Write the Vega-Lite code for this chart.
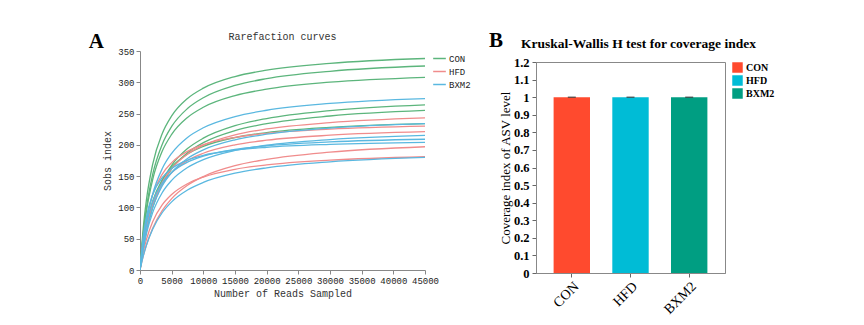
{
  "$schema": "https://vega.github.io/schema/vega-lite/v6.json",
  "background": "white",
  "padding": {"left": 88, "top": 29, "right": 5, "bottom": 5},
  "spacing": 17,
  "resolve": {"scale": {"color": "independent"}, "legend": {"color": "independent"}},
  "config": {"view": {"stroke": null}, "axis": {"grid": false}},
  "datasets": {
    "curves": [
      {"s":"C1","g":"CON","x":0,"y":0},{"s":"C1","g":"CON","x":500,"y":65.6},{"s":"C1","g":"CON","x":1000,"y":110.8},{"s":"C1","g":"CON","x":2000,"y":168.8},{"s":"C1","g":"CON","x":3500,"y":217.7},{"s":"C1","g":"CON","x":5000,"y":246.2},{"s":"C1","g":"CON","x":7500,"y":274.1},{"s":"C1","g":"CON","x":10000,"y":290.6},{"s":"C1","g":"CON","x":15000,"y":309.2},{"s":"C1","g":"CON","x":20000,"y":319.4},{"s":"C1","g":"CON","x":30000,"y":330.3},{"s":"C1","g":"CON","x":45000,"y":338},
      {"s":"C2","g":"CON","x":0,"y":0},{"s":"C2","g":"CON","x":500,"y":57.4},{"s":"C2","g":"CON","x":1000,"y":98.3},{"s":"C2","g":"CON","x":2000,"y":152.9},{"s":"C2","g":"CON","x":3500,"y":200.7},{"s":"C2","g":"CON","x":5000,"y":229.4},{"s":"C2","g":"CON","x":7500,"y":258.1},{"s":"C2","g":"CON","x":10000,"y":275.3},{"s":"C2","g":"CON","x":15000,"y":294.9},{"s":"C2","g":"CON","x":20000,"y":305.9},{"s":"C2","g":"CON","x":30000,"y":317.6},{"s":"C2","g":"CON","x":45000,"y":326},
      {"s":"C3","g":"CON","x":0,"y":0},{"s":"C3","g":"CON","x":500,"y":54.2},{"s":"C3","g":"CON","x":1000,"y":92.9},{"s":"C3","g":"CON","x":2000,"y":144.5},{"s":"C3","g":"CON","x":3500,"y":189.6},{"s":"C3","g":"CON","x":5000,"y":216.7},{"s":"C3","g":"CON","x":7500,"y":243.8},{"s":"C3","g":"CON","x":10000,"y":260.1},{"s":"C3","g":"CON","x":15000,"y":278.7},{"s":"C3","g":"CON","x":20000,"y":289.0},{"s":"C3","g":"CON","x":30000,"y":300.1},{"s":"C3","g":"CON","x":45000,"y":308},
      {"s":"C4","g":"CON","x":0,"y":0},{"s":"C4","g":"CON","x":500,"y":35.6},{"s":"C4","g":"CON","x":1000,"y":63.2},{"s":"C4","g":"CON","x":2000,"y":103.5},{"s":"C4","g":"CON","x":3500,"y":142.3},{"s":"C4","g":"CON","x":5000,"y":167.4},{"s":"C4","g":"CON","x":7500,"y":194.0},{"s":"C4","g":"CON","x":10000,"y":210.7},{"s":"C4","g":"CON","x":15000,"y":230.7},{"s":"C4","g":"CON","x":20000,"y":242.1},{"s":"C4","g":"CON","x":30000,"y":254.8},{"s":"C4","g":"CON","x":45000,"y":264},
      {"s":"C5","g":"CON","x":0,"y":0},{"s":"C5","g":"CON","x":500,"y":34.4},{"s":"C5","g":"CON","x":1000,"y":61.1},{"s":"C5","g":"CON","x":2000,"y":99.9},{"s":"C5","g":"CON","x":3500,"y":137.4},{"s":"C5","g":"CON","x":5000,"y":161.6},{"s":"C5","g":"CON","x":7500,"y":187.4},{"s":"C5","g":"CON","x":10000,"y":203.6},{"s":"C5","g":"CON","x":15000,"y":222.8},{"s":"C5","g":"CON","x":20000,"y":233.9},{"s":"C5","g":"CON","x":30000,"y":246.1},{"s":"C5","g":"CON","x":45000,"y":255},
      {"s":"C6","g":"CON","x":0,"y":0},{"s":"C6","g":"CON","x":500,"y":41.2},{"s":"C6","g":"CON","x":1000,"y":70.6},{"s":"C6","g":"CON","x":2000,"y":109.8},{"s":"C6","g":"CON","x":3500,"y":144.1},{"s":"C6","g":"CON","x":5000,"y":164.7},{"s":"C6","g":"CON","x":7500,"y":185.3},{"s":"C6","g":"CON","x":10000,"y":197.6},{"s":"C6","g":"CON","x":15000,"y":211.7},{"s":"C6","g":"CON","x":20000,"y":219.6},{"s":"C6","g":"CON","x":30000,"y":228.0},{"s":"C6","g":"CON","x":45000,"y":234},
      {"s":"H1","g":"HFD","x":0,"y":0},{"s":"H1","g":"HFD","x":500,"y":37.0},{"s":"H1","g":"HFD","x":1000,"y":64.8},{"s":"H1","g":"HFD","x":2000,"y":103.7},{"s":"H1","g":"HFD","x":3500,"y":139.6},{"s":"H1","g":"HFD","x":5000,"y":162.0},{"s":"H1","g":"HFD","x":7500,"y":185.1},{"s":"H1","g":"HFD","x":10000,"y":199.4},{"s":"H1","g":"HFD","x":15000,"y":216.0},{"s":"H1","g":"HFD","x":20000,"y":225.4},{"s":"H1","g":"HFD","x":30000,"y":235.6},{"s":"H1","g":"HFD","x":45000,"y":243},
      {"s":"H2","g":"HFD","x":0,"y":0},{"s":"H2","g":"HFD","x":500,"y":48.0},{"s":"H2","g":"HFD","x":1000,"y":80.1},{"s":"H2","g":"HFD","x":2000,"y":120.1},{"s":"H2","g":"HFD","x":3500,"y":152.9},{"s":"H2","g":"HFD","x":5000,"y":171.6},{"s":"H2","g":"HFD","x":7500,"y":189.6},{"s":"H2","g":"HFD","x":10000,"y":200.2},{"s":"H2","g":"HFD","x":15000,"y":211.9},{"s":"H2","g":"HFD","x":20000,"y":218.4},{"s":"H2","g":"HFD","x":30000,"y":225.2},{"s":"H2","g":"HFD","x":45000,"y":230},
      {"s":"H3","g":"HFD","x":0,"y":0},{"s":"H3","g":"HFD","x":500,"y":38.9},{"s":"H3","g":"HFD","x":1000,"y":66.7},{"s":"H3","g":"HFD","x":2000,"y":103.7},{"s":"H3","g":"HFD","x":3500,"y":136.1},{"s":"H3","g":"HFD","x":5000,"y":155.5},{"s":"H3","g":"HFD","x":7500,"y":175.0},{"s":"H3","g":"HFD","x":10000,"y":186.6},{"s":"H3","g":"HFD","x":15000,"y":200.0},{"s":"H3","g":"HFD","x":20000,"y":207.4},{"s":"H3","g":"HFD","x":30000,"y":215.4},{"s":"H3","g":"HFD","x":45000,"y":221},
      {"s":"H4","g":"HFD","x":0,"y":0},{"s":"H4","g":"HFD","x":500,"y":21.7},{"s":"H4","g":"HFD","x":1000,"y":39.4},{"s":"H4","g":"HFD","x":2000,"y":66.7},{"s":"H4","g":"HFD","x":3500,"y":94.8},{"s":"H4","g":"HFD","x":5000,"y":114.1},{"s":"H4","g":"HFD","x":7500,"y":135.4},{"s":"H4","g":"HFD","x":10000,"y":149.4},{"s":"H4","g":"HFD","x":15000,"y":166.7},{"s":"H4","g":"HFD","x":20000,"y":176.9},{"s":"H4","g":"HFD","x":30000,"y":188.4},{"s":"H4","g":"HFD","x":45000,"y":197},
      {"s":"H5","g":"HFD","x":0,"y":0},{"s":"H5","g":"HFD","x":500,"y":27.6},{"s":"H5","g":"HFD","x":1000,"y":48.3},{"s":"H5","g":"HFD","x":2000,"y":77.2},{"s":"H5","g":"HFD","x":3500,"y":104.0},{"s":"H5","g":"HFD","x":5000,"y":120.7},{"s":"H5","g":"HFD","x":7500,"y":137.9},{"s":"H5","g":"HFD","x":10000,"y":148.5},{"s":"H5","g":"HFD","x":15000,"y":160.9},{"s":"H5","g":"HFD","x":20000,"y":167.9},{"s":"H5","g":"HFD","x":30000,"y":175.5},{"s":"H5","g":"HFD","x":45000,"y":181},
      {"s":"B1","g":"BXM2","x":0,"y":0},{"s":"B1","g":"BXM2","x":500,"y":44.1},{"s":"B1","g":"BXM2","x":1000,"y":76.6},{"s":"B1","g":"BXM2","x":2000,"y":121.3},{"s":"B1","g":"BXM2","x":3500,"y":161.7},{"s":"B1","g":"BXM2","x":5000,"y":186.5},{"s":"B1","g":"BXM2","x":7500,"y":211.9},{"s":"B1","g":"BXM2","x":10000,"y":227.3},{"s":"B1","g":"BXM2","x":15000,"y":245.2},{"s":"B1","g":"BXM2","x":20000,"y":255.3},{"s":"B1","g":"BXM2","x":30000,"y":266.2},{"s":"B1","g":"BXM2","x":45000,"y":274},
      {"s":"B2","g":"BXM2","x":0,"y":0},{"s":"B2","g":"BXM2","x":500,"y":35.7},{"s":"B2","g":"BXM2","x":1000,"y":62.4},{"s":"B2","g":"BXM2","x":2000,"y":99.8},{"s":"B2","g":"BXM2","x":3500,"y":134.4},{"s":"B2","g":"BXM2","x":5000,"y":156.0},{"s":"B2","g":"BXM2","x":7500,"y":178.3},{"s":"B2","g":"BXM2","x":10000,"y":192.0},{"s":"B2","g":"BXM2","x":15000,"y":208.0},{"s":"B2","g":"BXM2","x":20000,"y":217.0},{"s":"B2","g":"BXM2","x":30000,"y":226.9},{"s":"B2","g":"BXM2","x":45000,"y":234},
      {"s":"B3","g":"BXM2","x":0,"y":0},{"s":"B3","g":"BXM2","x":500,"y":32.8},{"s":"B3","g":"BXM2","x":1000,"y":57.3},{"s":"B3","g":"BXM2","x":2000,"y":91.7},{"s":"B3","g":"BXM2","x":3500,"y":123.5},{"s":"B3","g":"BXM2","x":5000,"y":143.3},{"s":"B3","g":"BXM2","x":7500,"y":163.8},{"s":"B3","g":"BXM2","x":10000,"y":176.4},{"s":"B3","g":"BXM2","x":15000,"y":191.1},{"s":"B3","g":"BXM2","x":20000,"y":199.4},{"s":"B3","g":"BXM2","x":30000,"y":208.5},{"s":"B3","g":"BXM2","x":45000,"y":215},
      {"s":"B4","g":"BXM2","x":0,"y":0},{"s":"B4","g":"BXM2","x":500,"y":43.7},{"s":"B4","g":"BXM2","x":1000,"y":72.8},{"s":"B4","g":"BXM2","x":2000,"y":109.2},{"s":"B4","g":"BXM2","x":3500,"y":138.9},{"s":"B4","g":"BXM2","x":5000,"y":155.9},{"s":"B4","g":"BXM2","x":7500,"y":172.3},{"s":"B4","g":"BXM2","x":10000,"y":181.9},{"s":"B4","g":"BXM2","x":15000,"y":192.6},{"s":"B4","g":"BXM2","x":20000,"y":198.5},{"s":"B4","g":"BXM2","x":30000,"y":204.7},{"s":"B4","g":"BXM2","x":45000,"y":209},
      {"s":"B5","g":"BXM2","x":0,"y":0},{"s":"B5","g":"BXM2","x":500,"y":52.7},{"s":"B5","g":"BXM2","x":1000,"y":84.3},{"s":"B5","g":"BXM2","x":2000,"y":120.5},{"s":"B5","g":"BXM2","x":3500,"y":147.6},{"s":"B5","g":"BXM2","x":5000,"y":162.2},{"s":"B5","g":"BXM2","x":7500,"y":175.7},{"s":"B5","g":"BXM2","x":10000,"y":183.3},{"s":"B5","g":"BXM2","x":15000,"y":191.6},{"s":"B5","g":"BXM2","x":20000,"y":196.1},{"s":"B5","g":"BXM2","x":30000,"y":200.8},{"s":"B5","g":"BXM2","x":45000,"y":204},
      {"s":"B6","g":"BXM2","x":0,"y":0},{"s":"B6","g":"BXM2","x":500,"y":21.8},{"s":"B6","g":"BXM2","x":1000,"y":39.2},{"s":"B6","g":"BXM2","x":2000,"y":65.3},{"s":"B6","g":"BXM2","x":3500,"y":91.5},{"s":"B6","g":"BXM2","x":5000,"y":108.9},{"s":"B6","g":"BXM2","x":7500,"y":127.8},{"s":"B6","g":"BXM2","x":10000,"y":140.0},{"s":"B6","g":"BXM2","x":15000,"y":154.7},{"s":"B6","g":"BXM2","x":20000,"y":163.3},{"s":"B6","g":"BXM2","x":30000,"y":172.9},{"s":"B6","g":"BXM2","x":45000,"y":180}
    ],
    "cov": [
      {"g":"CON","v":0.9995},
      {"g":"HFD","v":0.9995},
      {"g":"BXM2","v":0.9995}
    ]
  },
  "hconcat": [
    {
      "title": {"text": "A", "anchor": "start", "frame": "bounds", "font": "Liberation Serif", "fontSize": 21, "fontWeight": "bold", "color": "#000", "dx": -14, "dy": 20, "offset": 0},
      "vconcat": [
        {
          "title": {"text": "Rarefaction curves", "font": "Liberation Mono", "fontSize": 10, "fontWeight": "normal", "color": "#333", "offset": 5},
          "width": 285,
          "height": 219,
          "data": {"name": "curves"},
          "mark": {"type": "line", "interpolate": "monotone", "strokeWidth": 1.3, "clip": true},
          "encoding": {
            "x": {
              "field": "x", "type": "quantitative",
              "scale": {"domain": [0, 45000], "nice": false},
              "axis": {"values": [0,5000,10000,15000,20000,25000,30000,35000,40000,45000], "format": "d", "title": "Number of Reads Sampled",
                "labelFont": "Liberation Mono", "labelFontSize": 9, "labelColor": "#222", "labelPadding": 2,
                "titleFont": "Liberation Mono", "titleFontSize": 10, "titleFontWeight": "normal", "titleColor": "#333", "titlePadding": 3,
                "tickSize": 4, "tickColor": "#888", "domainColor": "#888", "labelFlush": false}
            },
            "y": {
              "field": "y", "type": "quantitative",
              "scale": {"domain": [0, 350], "nice": false},
              "axis": {"values": [0,50,100,150,200,250,300,350], "title": "Sobs index",
                "labelFont": "Liberation Mono", "labelFontSize": 9, "labelColor": "#222", "labelPadding": 2,
                "titleFont": "Liberation Mono", "titleFontSize": 10, "titleFontWeight": "normal", "titleColor": "#333", "titlePadding": 5,
                "tickSize": 4, "tickColor": "#888", "domainColor": "#888"}
            },
            "color": {
              "field": "g", "type": "nominal",
              "scale": {"domain": ["CON", "HFD", "BXM2"], "range": ["#5cb57c", "#f08c8c", "#5ab8e0"]},
              "legend": {"title": null, "orient": "right", "offset": -7, "padding": 0, "symbolType": "stroke", "symbolSize": 160, "symbolStrokeWidth": 1.5,
                "labelFont": "Liberation Mono", "labelFontSize": 9, "labelColor": "#222", "rowPadding": 0, "labelOffset": 2}
            },
            "detail": {"field": "s"}
          }
        }
      ]
    },
    {
      "title": {"text": "B", "anchor": "start", "frame": "bounds", "font": "Liberation Serif", "fontSize": 21, "fontWeight": "bold", "color": "#000", "dx": -10, "dy": 14, "offset": 0},
      "spacing": 3,
      "resolve": {"scale": {"color": "independent"}, "legend": {"color": "independent"}},
      "vconcat": [
        {
          "title": {"text": "Kruskal-Wallis H test for coverage index", "font": "Liberation Serif", "fontSize": 13.5, "fontWeight": "bold", "color": "#000", "offset": 1, "dx": 8},
          "width": 189,
          "height": 1,
          "data": {"values": []},
          "mark": {"type": "point"},
          "encoding": {}
        },
        {
          "width": 189,
          "height": 211,
          "view": {"stroke": "#888"},
          "data": {"name": "cov"},
          "encoding": {
            "x": {
              "field": "g", "type": "nominal", "sort": ["CON", "HFD", "BXM2"],
              "scale": {"paddingInner": 0.38, "paddingOuter": 0.3},
              "axis": {"title": null, "labelAngle": -45, "labelFont": "Liberation Serif", "labelFontSize": 14, "labelColor": "#000",
                "tickSize": 4, "tickColor": "#666", "domainColor": "#888", "labelPadding": 2}
            },
            "y": {
              "field": "v", "type": "quantitative",
              "scale": {"domain": [0, 1.2], "nice": false},
              "axis": {"values": [0,0.1,0.2,0.3,0.4,0.5,0.6,0.7,0.8,0.9,1,1.1,1.2], "format": ".1~f", "title": "Coverage index of ASV level",
                "labelFont": "Liberation Serif", "labelFontSize": 12.5, "labelFontWeight": "bold", "labelColor": "#000", "labelPadding": 3,
                "titleFont": "Liberation Serif", "titleFontSize": 13, "titleFontWeight": "normal", "titleColor": "#000", "titlePadding": 1,
                "tickSize": 4, "tickColor": "#666", "domainColor": "#888"}
            }
          },
          "layer": [
            {
              "mark": {"type": "bar"},
              "encoding": {
                "color": {
                  "field": "g", "type": "nominal",
                  "scale": {"domain": ["CON", "HFD", "BXM2"], "range": ["#ff4a2e", "#00bcd6", "#009e82"]},
                  "legend": {"title": null, "orient": "right", "offset": 7, "padding": 0, "symbolType": "square", "symbolSize": 110, "symbolStrokeWidth": 0,
                    "labelFont": "Liberation Serif", "labelFontSize": 10, "labelFontWeight": "bold", "labelColor": "#000", "rowPadding": 2, "labelOffset": 3}
                }
              }
            },
            {
              "mark": {"type": "tick", "color": "#333", "size": 8, "thickness": 1.5},
              "encoding": {}
            }
          ]
        }
      ]
    }
  ]
}
